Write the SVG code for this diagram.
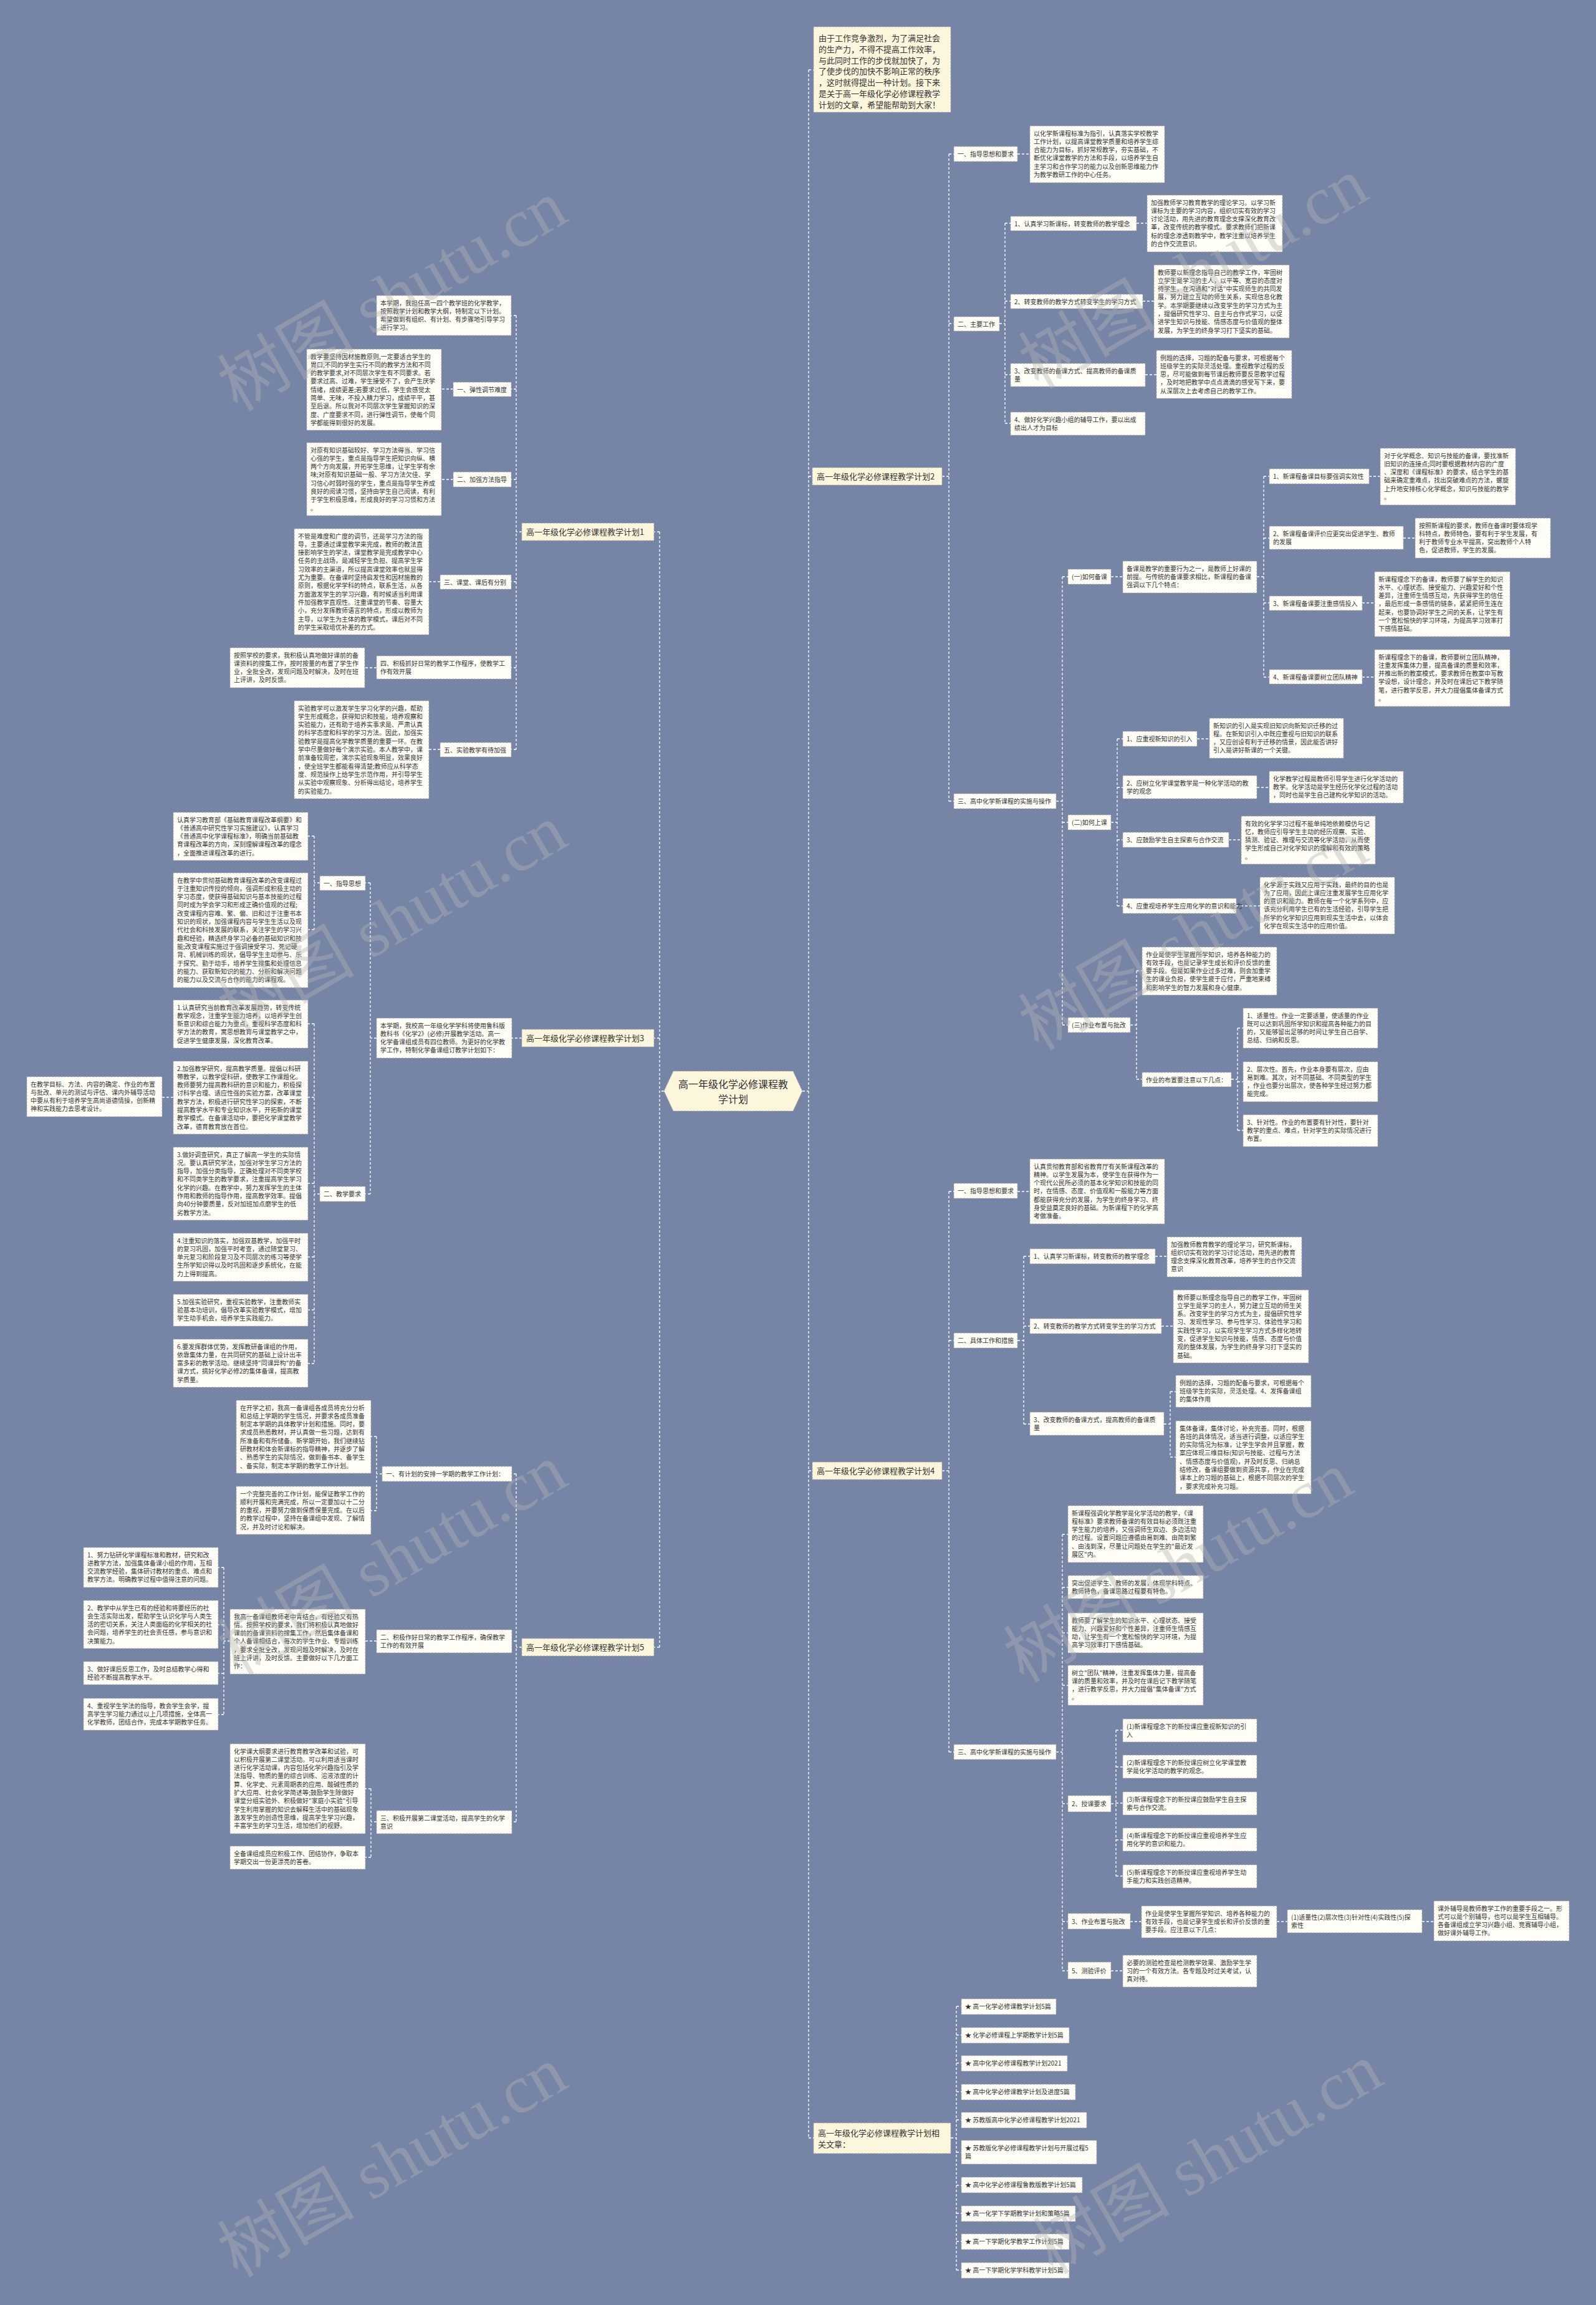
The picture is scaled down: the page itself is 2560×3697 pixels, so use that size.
<svg xmlns="http://www.w3.org/2000/svg" width="2560" height="3697" viewBox="0 0 2560 3697">
<style>
.n{fill:#fffef6;stroke:#a8a8a8;stroke-width:1;stroke-dasharray:3 2}
.b{fill:#fcf6dc;stroke:#a8a8a8;stroke-width:1;stroke-dasharray:3 2}
.t{font-family:"Noto Sans CJK SC","Noto Sans",sans-serif;font-size:10px;fill:#333}
.tb{font-family:"Noto Sans CJK SC","Noto Sans",sans-serif;font-size:13px;fill:#333}
.c{fill:none;stroke:#ffffff;stroke-width:1.3;stroke-dasharray:4 3}
.wm{font-family:"Liberation Serif","Noto Sans CJK SC",serif;font-size:110px;fill:#b4b4b4;opacity:0.4}
</style>
<rect x="0" y="0" width="2560" height="3697" fill="#7684a5"/>
<g id="connectors">
<path class="c" d="M1287,1750 H1297 M1297,112 V3429 M1297,112 H1305 M1297,764 H1303 M1297,2359 H1303 M1297,3429 H1305"/>
<path class="c" d="M1065,1750 H1058 M1058,853 V2642 M1058,853 H1049 M1058,1665 H1049 M1058,2642 H1049"/>
<path class="c" d="M837,853 H828 M828,506 V1202 M828,506 H820 M828,624 H820 M828,769 H820 M828,933 H820 M828,1071 H820 M828,1202 H820 M727,624 H708 M727,769 H708 M706,933 H688 M604,1071 H585 M706,1202 H688"/>
<path class="c" d="M837,1665 H821 M604,1665 H594 M594,1416 V1915 M594,1416 H586 M594,1915 H586 M513,1416 H504 M504,1341 V1491 M504,1341 H494 M504,1491 H494 M513,1915 H504 M504,1642 V2187 M504,1642 H494 M504,1760 H494 M504,1898 H494 M504,2016 H494 M504,2101 H494 M504,2187 H494 M278,1760 H260"/>
<path class="c" d="M837,2642 H828 M828,2364 V2922 M828,2364 H821 M828,2632 H821 M828,2922 H821 M613,2364 H604 M604,2304 V2423 M604,2304 H595 M604,2423 H595 M604,2632 H586 M369,2632 H359 M359,2514 V2750 M359,2514 H350 M359,2606 H350 M359,2684 H350 M359,2750 H350 M604,2922 H595 M595,2869 V2979 M595,2869 H586 M595,2979 H586"/>
<path class="c" d="M1511,764 H1522 M1522,247 V1285 M1522,247 H1530 M1522,519 H1530 M1522,1285 H1530 M1632,247 H1652 M1603,519 H1612 M1612,358 V679 M1612,358 H1621 M1612,483 H1621 M1612,601 H1621 M1612,679 H1621 M1823,358 H1840 M1833,483 H1851 M1837,601 H1855"/>
<path class="c" d="M1694,1285 H1704 M1704,925 V1644 M1704,925 H1713 M1704,1319 H1713 M1704,1644 H1713 M1782,925 H1801 M2016,925 H2027 M2027,764 V1086 M2027,764 H2036 M2027,863 H2036 M2027,967 H2036 M2027,1086 H2036 M2196,764 H2214 M2251,863 H2270 M2185,967 H2205 M2185,1086 H2205"/>
<path class="c" d="M1782,1319 H1792 M1792,1185 V1453 M1792,1185 H1801 M1792,1263 H1801 M1792,1347 H1801 M1792,1453 H1801 M1920,1185 H1940 M2016,1263 H2036 M1971,1347 H1991 M1983,1453 H2021"/>
<path class="c" d="M1813,1644 H1823 M1823,1557 V1731 M1823,1557 H1832 M1823,1731 H1832 M1975,1731 H1985 M1985,1649 V1813 M1985,1649 H1994 M1985,1735 H1994 M1985,1813 H1994"/>
<path class="c" d="M1511,2359 H1522 M1522,1911 V2810 M1522,1911 H1530 M1522,2150 H1530 M1522,2810 H1530 M1632,1911 H1652 M1632,2150 H1642 M1642,2015 V2284 M1642,2015 H1652 M1642,2127 H1652 M1642,2284 H1652 M1853,2015 H1872 M1863,2127 H1882 M1867,2284 H1877 M1877,2232 V2337 M1877,2232 H1886 M1877,2337 H1886"/>
<path class="c" d="M1694,2810 H1704 M1704,2461 V3161 M1704,2461 H1713 M1704,2546 H1713 M1704,2619 H1713 M1704,2703 H1713 M1704,2893 H1713 M1704,3082 H1713 M1704,3161 H1713 M1782,2893 H1790 M1790,2775 V3009 M1790,2775 H1801 M1790,2834 H1801 M1790,2892 H1801 M1790,2951 H1801 M1790,3009 H1801 M1813,3082 H1831 M2048,3082 H2065 M2281,3082 H2300 M1782,3161 H1801"/>
<path class="c" d="M1525,3429 H1534 M1534,3218 V3641 M1534,3218 H1542 M1534,3264 H1542 M1534,3309 H1542 M1534,3355 H1542 M1534,3400 H1542 M1534,3452 H1542 M1534,3505 H1542 M1534,3550 H1542 M1534,3595 H1542 M1534,3641 H1542"/>
</g>

<g id="center"><polygon points="1065,1750 1080,1718 1272,1718 1287,1750 1272,1782 1080,1782" fill="#fcf6dc" stroke="#a8a8a8" stroke-dasharray="3 2"/><text class="tb" style="font-size:16px" text-anchor="middle" x="1176" y="1745">高一年级化学必修课程教<tspan x="1176" dy="24">学计划</tspan></text></g>

<g id="intro"><rect class="b" x="1305" y="43" width="220" height="137"/><text class="tb" x="1313" y="66">由于工作竞争激烈，为了满足社会<tspan x="1313" dy="17.8">的生产力，不得不提高工作效率，</tspan><tspan x="1313" dy="17.8">与此同时工作的步伐就加快了，为</tspan><tspan x="1313" dy="17.8">了使步伐的加快不影响正常的秩序</tspan><tspan x="1313" dy="17.8">，这时就得提出一种计划。接下来</tspan><tspan x="1313" dy="17.8">是关于高一年级化学必修课程教学</tspan><tspan x="1313" dy="17.8">计划的文章，希望能帮助到大家！</tspan></text></g>

<!-- PLAN 1 -->
<g id="p1"><rect class="b" x="837" y="839" width="212" height="28"/><text class="tb" x="844" y="857.5">高一年级化学必修课程教学计划1</text></g>
<g id="p1-0"><rect class="n" x="604" y="474" width="216" height="64"/><text class="t" x="610" y="489.5">本学期，我担任高一四个教学班的化学教学，<tspan x="610" dy="13.3">按照教学计划和教学大纲，特制定以下计划。</tspan><tspan x="610" dy="13.3">希望做到有组织、有计划、有步骤地引导学习</tspan><tspan x="610" dy="13.3">进行学习。</tspan></text></g>
<g id="p1-1"><rect class="n" x="727" y="613" width="93" height="23"/><text class="t" x="733" y="628.5">一、弹性调节难度</text></g>
<g id="p1-1a"><rect class="n" x="492" y="560" width="216" height="130"/><text class="t" x="498" y="575.5">教学要坚持因材施教原则,一定要适合学生的<tspan x="498" dy="13.3">胃口,不同的学生实行不同的教学方法和不同</tspan><tspan x="498" dy="13.3">的教学要求,对不同层次学生有不同要求。若</tspan><tspan x="498" dy="13.3">要求过高、过难，学生接受不了，会产生厌学</tspan><tspan x="498" dy="13.3">情绪，成绩更差;若要求过低，学生会感觉太</tspan><tspan x="498" dy="13.3">简单、无味，不投入精力学习，成绩平平，甚</tspan><tspan x="498" dy="13.3">至后退。所以我对不同层次学生掌握知识的深</tspan><tspan x="498" dy="13.3">度、广度要求不同，进行弹性调节，使每个同</tspan><tspan x="498" dy="13.3">学都能得到很好的发展。</tspan></text></g>
<g id="p1-2"><rect class="n" x="727" y="757" width="93" height="24"/><text class="t" x="733" y="772.5">二、加强方法指导</text></g>
<g id="p1-2a"><rect class="n" x="492" y="710" width="216" height="117"/><text class="t" x="498" y="725.5">对原有知识基础较好、学习方法得当、学习信<tspan x="498" dy="13.3">心强的学生，重点是指导学生把知识向纵、横</tspan><tspan x="498" dy="13.3">两个方向发展，开拓学生思维，让学生学有余</tspan><tspan x="498" dy="13.3">味;对原有知识基础一般、学习方法欠佳、学</tspan><tspan x="498" dy="13.3">习信心时弱时强的学生，重点是指导学生养成</tspan><tspan x="498" dy="13.3">良好的阅读习惯，坚持由学生自己阅读，有利</tspan><tspan x="498" dy="13.3">于学生积极思维，形成良好的学习习惯和方法</tspan><tspan x="498" dy="13.3">。</tspan></text></g>
<g id="p1-3"><rect class="n" x="706" y="922" width="114" height="23"/><text class="t" x="712" y="937.5">三、课堂、课后有分别</text></g>
<g id="p1-3a"><rect class="n" x="472" y="848" width="216" height="170"/><text class="t" x="478" y="863.5">不管是难度和广度的调节，还是学习方法的指<tspan x="478" dy="13.3">导，主要通过课堂教学来完成，教师的教法直</tspan><tspan x="478" dy="13.3">接影响学生的学法，课堂教学是完成教学中心</tspan><tspan x="478" dy="13.3">任务的主战场，是减轻学生负担、提高学生学</tspan><tspan x="478" dy="13.3">习效率的主渠道，所以提高课堂效率也就显得</tspan><tspan x="478" dy="13.3">尤为重要。在备课时坚持启发性和因材施教的</tspan><tspan x="478" dy="13.3">原则，根据化学学科的特点，联系生活，从各</tspan><tspan x="478" dy="13.3">方面激发学生的学习兴趣，有时候适当利用课</tspan><tspan x="478" dy="13.3">件加强教学直观性。注重课堂的节奏、容量大</tspan><tspan x="478" dy="13.3">小，充分发挥教师语言的特点，形成以教师为</tspan><tspan x="478" dy="13.3">主导，以学生为主体的教学模式，课后对不同</tspan><tspan x="478" dy="13.3">的学生采取培优补差的方式。</tspan></text></g>
<g id="p1-4"><rect class="n" x="604" y="1052" width="216" height="37"/><text class="t" x="610" y="1067.5">四、积极抓好日常的教学工作程序，使教学工<tspan x="610" dy="13.3">作有效开展</tspan></text></g>
<g id="p1-4a"><rect class="n" x="369" y="1039" width="216" height="64"/><text class="t" x="375" y="1054.5">按照学校的要求，我积极认真地做好课前的备<tspan x="375" dy="13.3">课资料的搜集工作，按时按量的布置了学生作</tspan><tspan x="375" dy="13.3">业，全批全改，发现问题及时解决，及时在班</tspan><tspan x="375" dy="13.3">上评讲，及时反馈。</tspan></text></g>
<g id="p1-5"><rect class="n" x="706" y="1191" width="114" height="23"/><text class="t" x="712" y="1206.5">五、实验教学有待加强</text></g>
<g id="p1-5a"><rect class="n" x="472" y="1124" width="216" height="157"/><text class="t" x="478" y="1139.5">实验教学可以激发学生学习化学的兴趣，帮助<tspan x="478" dy="13.3">学生形成概念，获得知识和技能，培养观察和</tspan><tspan x="478" dy="13.3">实验能力，还有助于培养实事求是、严肃认真</tspan><tspan x="478" dy="13.3">的科学态度和科学的学习方法。因此，加强实</tspan><tspan x="478" dy="13.3">验教学是提高化学教学质量的重要一环。在教</tspan><tspan x="478" dy="13.3">学中尽量做好每个演示实验。本人教学中，课</tspan><tspan x="478" dy="13.3">前准备较周密，演示实验现象明显，效果良好</tspan><tspan x="478" dy="13.3">，使全班学生都能看得清楚;教师应从科学态</tspan><tspan x="478" dy="13.3">度、规范操作上给学生示范作用，并引导学生</tspan><tspan x="478" dy="13.3">从实验中观察现象、分析得出结论，培养学生</tspan><tspan x="478" dy="13.3">的实验能力。</tspan></text></g>

<!-- PLAN 3 -->
<g id="p3"><rect class="b" x="837" y="1651" width="212" height="28"/><text class="tb" x="844" y="1669.5">高一年级化学必修课程教学计划3</text></g>
<g id="p3-0"><rect class="n" x="604" y="1633" width="217" height="64"/><text class="t" x="610" y="1648.5">本学期，我校高一年级化学学科将使用鲁科版<tspan x="610" dy="13.3">教科书《化学2》(必修)开展教学活动。高一</tspan><tspan x="610" dy="13.3">化学备课组成员有四位教师。为更好的化学教</tspan><tspan x="610" dy="13.3">学工作，特制化学备课组订教学计划如下：</tspan></text></g>
<g id="p3-1"><rect class="n" x="513" y="1405" width="73" height="23"/><text class="t" x="519" y="1420.5">一、指导思想</text></g>
<g id="p3-1a"><rect class="n" x="278" y="1303" width="216" height="77"/><text class="t" x="284" y="1318.5">认真学习教育部《基础教育课程改革纲要》和<tspan x="284" dy="13.3">《普通高中研究性学习实施建议》，认真学习</tspan><tspan x="284" dy="13.3">《普通高中化学课程标准》，明确当前基础教</tspan><tspan x="284" dy="13.3">育课程改革的方向，深刻理解课程改革的理念</tspan><tspan x="284" dy="13.3">，全面推进课程改革的进行。</tspan></text></g>
<g id="p3-1b"><rect class="n" x="278" y="1400" width="216" height="184"/><text class="t" x="284" y="1415.5">在教学中贯彻基础教育课程改革的改变课程过<tspan x="284" dy="13.3">于注重知识传授的倾向，强调形成积极主动的</tspan><tspan x="284" dy="13.3">学习态度，使获得基础知识与基本技能的过程</tspan><tspan x="284" dy="13.3">同时成为学会学习和形成正确价值观的过程;</tspan><tspan x="284" dy="13.3">改变课程内容难、繁、偏、旧和过于注重书本</tspan><tspan x="284" dy="13.3">知识的现状，加强课程内容与学生生活以及现</tspan><tspan x="284" dy="13.3">代社会和科技发展的联系，关注学生的学习兴</tspan><tspan x="284" dy="13.3">趣和经验，精选终身学习必备的基础知识和技</tspan><tspan x="284" dy="13.3">能;改变课程实施过于强调接受学习、死记硬</tspan><tspan x="284" dy="13.3">背、机械训练的现状，倡导学生主动参与、乐</tspan><tspan x="284" dy="13.3">于探究、勤于动手，培养学生搜集和处理信息</tspan><tspan x="284" dy="13.3">的能力、获取新知识的能力、分析和解决问题</tspan><tspan x="284" dy="13.3">的能力以及交流与合作的能力的课程观。</tspan></text></g>
<g id="p3-2"><rect class="n" x="513" y="1903" width="73" height="24"/><text class="t" x="519" y="1918.5">二、教学要求</text></g>
<g id="p3-2a"><rect class="n" x="278" y="1604" width="216" height="77"/><text class="t" x="284" y="1619.5">1.认真研究当前教育改革发展趋势，转变传统<tspan x="284" dy="13.3">教学观念，注重学生能力培养，以培养学生创</tspan><tspan x="284" dy="13.3">新意识和综合能力为重点，重视科学态度和科</tspan><tspan x="284" dy="13.3">学方法的教育，寓思想教育与课堂教学之中，</tspan><tspan x="284" dy="13.3">促进学生健康发展，深化教育改革。</tspan></text></g>
<g id="p3-2b"><rect class="n" x="278" y="1702" width="216" height="117"/><text class="t" x="284" y="1717.5">2.加强教学研究，提高教学质量。提倡以科研<tspan x="284" dy="13.3">带教学，以教学促科研，使教学工作课题化。</tspan><tspan x="284" dy="13.3">教师要努力提高教科研的意识和能力，积极探</tspan><tspan x="284" dy="13.3">讨科学合理、适应性强的实验方案，改革课堂</tspan><tspan x="284" dy="13.3">教学方法，积极进行研究性学习的探索，不断</tspan><tspan x="284" dy="13.3">提高教学水平和专业知识水平，开拓新的课堂</tspan><tspan x="284" dy="13.3">教学模式。在备课活动中，要把化学课堂教学</tspan><tspan x="284" dy="13.3">改革，德育教育放在首位。</tspan></text></g>
<g id="p3-2b1"><rect class="n" x="43" y="1727" width="217" height="64"/><text class="t" x="49" y="1742.5">在教学目标、方法、内容的确定、作业的布置<tspan x="49" dy="13.3">与批改、单元的测试与评估、课内外辅导活动</tspan><tspan x="49" dy="13.3">中要从有利于培养学生高尚道德情操，创新精</tspan><tspan x="49" dy="13.3">神和实践能力去思考设计。</tspan></text></g>
<g id="p3-2c"><rect class="n" x="278" y="1840" width="216" height="117"/><text class="t" x="284" y="1855.5">3.做好调查研究，真正了解高一学生的实际情<tspan x="284" dy="13.3">况。要认真研究学法，加强对学生学习方法的</tspan><tspan x="284" dy="13.3">指导，加强分类指导，正确处理对不同类学校</tspan><tspan x="284" dy="13.3">和不同类学生的教学要求，注重提高学生学习</tspan><tspan x="284" dy="13.3">化学的兴趣。在教学中，努力发挥学生的主体</tspan><tspan x="284" dy="13.3">作用和教师的指导作用，提高教学效率。提倡</tspan><tspan x="284" dy="13.3">向40分钟要质量，反对加班加点磨学生的低</tspan><tspan x="284" dy="13.3">劣教学方法。</tspan></text></g>
<g id="p3-2d"><rect class="n" x="278" y="1978" width="216" height="77"/><text class="t" x="284" y="1993.5">4.注重知识的落实，加强双基教学，加强平时<tspan x="284" dy="13.3">的复习巩固，加强平时考查，通过随堂复习、</tspan><tspan x="284" dy="13.3">单元复习和阶段复习及不同层次的练习等使学</tspan><tspan x="284" dy="13.3">生所学知识得以及时巩固和逐步系统化，在能</tspan><tspan x="284" dy="13.3">力上得到提高。</tspan></text></g>
<g id="p3-2e"><rect class="n" x="278" y="2076" width="216" height="51"/><text class="t" x="284" y="2091.5">5.加强实验研究，重视实验教学，注重教师实<tspan x="284" dy="13.3">验基本功培训，倡导改革实验教学模式，增加</tspan><tspan x="284" dy="13.3">学生动手机会，培养学生实践能力。</tspan></text></g>
<g id="p3-2f"><rect class="n" x="278" y="2148" width="216" height="77"/><text class="t" x="284" y="2163.5">6.要发挥群体优势，发挥教研备课组的作用，<tspan x="284" dy="13.3">依靠集体力量，在共同研究的基础上设计出丰</tspan><tspan x="284" dy="13.3">富多彩的教学活动。继续坚持"同课异构"的备</tspan><tspan x="284" dy="13.3">课方式，搞好化学必修2的集体备课，提高教</tspan><tspan x="284" dy="13.3">学质量。</tspan></text></g>

<!-- PLAN 5 -->
<g id="p5"><rect class="b" x="837" y="2628" width="212" height="28"/><text class="tb" x="844" y="2646.5">高一年级化学必修课程教学计划5</text></g>
<g id="p5-1"><rect class="n" x="613" y="2352" width="208" height="24"/><text class="t" x="619" y="2367.5">一、有计划的安排一学期的教学工作计划：</text></g>
<g id="p5-1a"><rect class="n" x="379" y="2246" width="216" height="117"/><text class="t" x="385" y="2261.5">在开学之初，我高一备课组各成员将充分分析<tspan x="385" dy="13.3">和总结上学期的学生情况，并要求各成员准备</tspan><tspan x="385" dy="13.3">制定本学期的具体教学计划和措施。同时，要</tspan><tspan x="385" dy="13.3">求成员熟悉教材，并认真做一些习题，达到有</tspan><tspan x="385" dy="13.3">所准备和有所储备。新学期开始，我们继续钻</tspan><tspan x="385" dy="13.3">研教材和体会新课标的指导精神，并逐步了解</tspan><tspan x="385" dy="13.3">、熟悉学生的实际情况，做到备书本、备学生</tspan><tspan x="385" dy="13.3">、备实际，制定本学期的教学工作计划。</tspan></text></g>
<g id="p5-1b"><rect class="n" x="379" y="2384" width="216" height="77"/><text class="t" x="385" y="2399.5">一个完整完善的工作计划，能保证教学工作的<tspan x="385" dy="13.3">顺利开展和完满完成，所以一定要加以十二分</tspan><tspan x="385" dy="13.3">的重视，并要努力做到保质保量完成。在以后</tspan><tspan x="385" dy="13.3">的教学过程中，坚持在备课组中发现、了解情</tspan><tspan x="385" dy="13.3">况，并及时讨论和解决。</tspan></text></g>
<g id="p5-2"><rect class="n" x="604" y="2614" width="217" height="37"/><text class="t" x="610" y="2629.5">二、积极作好日常的教学工作程序，确保教学<tspan x="610" dy="13.3">工作的有效开展</tspan></text></g>
<g id="p5-2a"><rect class="n" x="369" y="2581" width="217" height="104"/><text class="t" x="375" y="2596.5">我高一备课组教师老中青结合，有经验又有热<tspan x="375" dy="13.3">情。按照学校的要求，我们将积极认真地做好</tspan><tspan x="375" dy="13.3">课前的备课资料的搜集工作，然后集体备课和</tspan><tspan x="375" dy="13.3">个人备课相结合，每次的学生作业、专题训练</tspan><tspan x="375" dy="13.3">，要求全批全改，发现问题及时解决，及时在</tspan><tspan x="375" dy="13.3">班上评讲，及时反馈。主要做好以下几方面工</tspan><tspan x="375" dy="13.3">作：</tspan></text></g>
<g id="p5-2a1"><rect class="n" x="134" y="2482" width="216" height="64"/><text class="t" x="140" y="2497.5">1、努力钻研化学课程标准和教材，研究和改<tspan x="140" dy="13.3">进教学方法，加强集体备课小组的作用，互相</tspan><tspan x="140" dy="13.3">交流教学经验，集体研讨教材的重点、难点和</tspan><tspan x="140" dy="13.3">教学方法。明确教学过程中值得注意的问题。</tspan></text></g>
<g id="p5-2a2"><rect class="n" x="134" y="2567" width="216" height="77"/><text class="t" x="140" y="2582.5">2、教学中从学生已有的经验和将要经历的社<tspan x="140" dy="13.3">会生活实际出发，帮助学生认识化学与人类生</tspan><tspan x="140" dy="13.3">活的密切关系，关注人类面临的化学相关的社</tspan><tspan x="140" dy="13.3">会问题，培养学生的社会责任感，参与意识和</tspan><tspan x="140" dy="13.3">决策能力。</tspan></text></g>
<g id="p5-2a3"><rect class="n" x="134" y="2665" width="216" height="37"/><text class="t" x="140" y="2680.5">3、做好课后反思工作，及时总结教学心得和<tspan x="140" dy="13.3">经验不断提高教学水平。</tspan></text></g>
<g id="p5-2a4"><rect class="n" x="134" y="2724" width="216" height="51"/><text class="t" x="140" y="2739.5">4、重视学生学法的指导，教会学生会学，提<tspan x="140" dy="13.3">高学生学习能力通过以上几项措施，全体高一</tspan><tspan x="140" dy="13.3">化学教师，团结合作，完成本学期教学任务。</tspan></text></g>
<g id="p5-3"><rect class="n" x="604" y="2904" width="217" height="37"/><text class="t" x="610" y="2919.5">三、积极开展第二课堂活动，提高学生的化学<tspan x="610" dy="13.3">意识</tspan></text></g>
<g id="p5-3a"><rect class="n" x="369" y="2797" width="217" height="144"/><text class="t" x="375" y="2812.5">化学课大纲要求进行教育教学改革和试验，可<tspan x="375" dy="13.3">以积极开展第二课堂活动。可以利用适当课时</tspan><tspan x="375" dy="13.3">进行化学活动课，内容包括化学兴趣指引及学</tspan><tspan x="375" dy="13.3">法指导、物质的量的综合训练、溶液浓度的计</tspan><tspan x="375" dy="13.3">算、化学史、元素周期表的应用、酸碱性质的</tspan><tspan x="375" dy="13.3">扩大应用、社会化学简述等;鼓励学生除做好</tspan><tspan x="375" dy="13.3">课堂分组实验外、积极做好"家庭小实验"引导</tspan><tspan x="375" dy="13.3">学生利用掌握的知识去解释生活中的基础现象</tspan><tspan x="375" dy="13.3">激发学生的创造性思维，提高学生学习兴趣，</tspan><tspan x="375" dy="13.3">丰富学生的学习生活，增加他们的视野。</tspan></text></g>
<g id="p5-3b"><rect class="n" x="369" y="2961" width="217" height="37"/><text class="t" x="375" y="2976.5">全备课组成员应积极工作、团结协作，争取本<tspan x="375" dy="13.3">学期交出一份更漂亮的答卷。</tspan></text></g>

<!-- PLAN 2 -->
<g id="p2"><rect class="b" x="1303" y="750" width="208" height="28"/><text class="tb" x="1310" y="768.5">高一年级化学必修课程教学计划2</text></g>
<g id="p2-1"><rect class="n" x="1530" y="235" width="102" height="24"/><text class="t" x="1536" y="250.5">一、指导思想和要求</text></g>
<g id="p2-1a"><rect class="n" x="1652" y="202" width="216" height="91"/><text class="t" x="1658" y="217.5">以化学新课程标准为指引，认真落实学校教学<tspan x="1658" dy="13.3">工作计划，以提高课堂教学质量和培养学生综</tspan><tspan x="1658" dy="13.3">合能力为目标，抓好常规教学，夯实基础，不</tspan><tspan x="1658" dy="13.3">断优化课堂教学的方法和手段，以培养学生自</tspan><tspan x="1658" dy="13.3">主学习和合作学习的能力以及创新思维能力作</tspan><tspan x="1658" dy="13.3">为教学教研工作的中心任务。</tspan></text></g>
<g id="p2-2"><rect class="n" x="1530" y="508" width="73" height="23"/><text class="t" x="1536" y="523.5">二、主要工作</text></g>
<g id="p2-2-1"><rect class="n" x="1621" y="347" width="202" height="23"/><text class="t" x="1627" y="362.5">1、认真学习新课标，转变教师的教学理念</text></g>
<g id="p2-2-1a"><rect class="n" x="1840" y="313" width="217" height="91"/><text class="t" x="1846" y="328.5">加强教师学习教育教学的理论学习。以学习新<tspan x="1846" dy="13.3">课标为主要的学习内容，组织切实有效的学习</tspan><tspan x="1846" dy="13.3">讨论活动，用先进的教育理念支撑深化教育改</tspan><tspan x="1846" dy="13.3">革，改变传统的教学模式。要求教师们把新课</tspan><tspan x="1846" dy="13.3">标的理念渗透到教学中，教学注重以培养学生</tspan><tspan x="1846" dy="13.3">的合作交流意识。</tspan></text></g>
<g id="p2-2-2"><rect class="n" x="1621" y="472" width="212" height="23"/><text class="t" x="1627" y="487.5">2、转变教师的教学方式转变学生的学习方式</text></g>
<g id="p2-2-2a"><rect class="n" x="1851" y="425" width="217" height="117"/><text class="t" x="1857" y="440.5">教师要以新理念指导自己的教学工作，牢固树<tspan x="1857" dy="13.3">立学生是学习的主人，以平等、宽容的态度对</tspan><tspan x="1857" dy="13.3">待学生，在沟通和"对话"中实现师生的共同发</tspan><tspan x="1857" dy="13.3">展，努力建立互动的师生关系，实现信息化教</tspan><tspan x="1857" dy="13.3">学。本学期要继续以改变学生的学习方式为主</tspan><tspan x="1857" dy="13.3">，提倡研究性学习、自主与合作式学习，以促</tspan><tspan x="1857" dy="13.3">进学生知识与技能、情感态度与价值观的整体</tspan><tspan x="1857" dy="13.3">发展，为学生的终身学习打下坚实的基础。</tspan></text></g>
<g id="p2-2-3"><rect class="n" x="1621" y="583" width="216" height="37"/><text class="t" x="1627" y="598.5">3、改变教师的备课方式、提高教师的备课质<tspan x="1627" dy="13.3">量</tspan></text></g>
<g id="p2-2-3a"><rect class="n" x="1855" y="562" width="217" height="77"/><text class="t" x="1861" y="577.5">例题的选择，习题的配备与要求，可根据每个<tspan x="1861" dy="13.3">班级学生的实际灵活处理。重视教学过程的反</tspan><tspan x="1861" dy="13.3">思，尽可能做到每节课后教师要反思教学过程</tspan><tspan x="1861" dy="13.3">，及时地把教学中点点滴滴的感受写下来，要</tspan><tspan x="1861" dy="13.3">从深层次上去考虑自己的教学工作。</tspan></text></g>
<g id="p2-2-4"><rect class="n" x="1621" y="661" width="216" height="37"/><text class="t" x="1627" y="676.5">4、做好化学兴趣小组的辅导工作，要以出成<tspan x="1627" dy="13.3">绩出人才为目标</tspan></text></g>
<g id="p2-3"><rect class="n" x="1530" y="1273" width="164" height="24"/><text class="t" x="1536" y="1288.5">三、高中化学新课程的实施与操作</text></g>
<g id="p2-3-1"><rect class="n" x="1713" y="913" width="69" height="24"/><text class="t" x="1719" y="928.5">(一)如何备课</text></g>
<g id="p2-3-1a"><rect class="n" x="1801" y="900" width="215" height="51"/><text class="t" x="1807" y="915.5">备课是教学的重要行为之一，是教师上好课的<tspan x="1807" dy="13.3">前提。与传统的备课要求相比，新课程的备课</tspan><tspan x="1807" dy="13.3">强调以下几个特点：</tspan></text></g>
<g id="p2-3-1-1"><rect class="n" x="2036" y="752" width="160" height="24"/><text class="t" x="2042" y="767.5">1、新课程备课目标要强调实效性</text></g>
<g id="p2-3-1-1a"><rect class="n" x="2214" y="719" width="217" height="91"/><text class="t" x="2220" y="734.5">对于化学概念、知识与技能的备课，要找准新<tspan x="2220" dy="13.3">旧知识的连接点;同时要根据教材内容的广度</tspan><tspan x="2220" dy="13.3">、深度和《课程标准》的要求，结合学生的基</tspan><tspan x="2220" dy="13.3">础来确定重难点，找出突破难点的方法，螺旋</tspan><tspan x="2220" dy="13.3">上升地安排核心化学概念，知识与技能的教学</tspan><tspan x="2220" dy="13.3">。</tspan></text></g>
<g id="p2-3-1-2"><rect class="n" x="2036" y="844" width="215" height="37"/><text class="t" x="2042" y="859.5">2、新课程备课评价应更突出促进学生、教师<tspan x="2042" dy="13.3">的发展</tspan></text></g>
<g id="p2-3-1-2a"><rect class="n" x="2270" y="831" width="217" height="64"/><text class="t" x="2276" y="846.5">按照新课程的要求，教师在备课时要体现学<tspan x="2276" dy="13.3">科特点，教师特色，要有利于学生发展，有</tspan><tspan x="2276" dy="13.3">利于教师专业水平提高，突出教师个人特</tspan><tspan x="2276" dy="13.3">色，促进教师，学生的发展。</tspan></text></g>
<g id="p2-3-1-3"><rect class="n" x="2036" y="956" width="149" height="23"/><text class="t" x="2042" y="971.5">3、新课程备课要注重感情投入</text></g>
<g id="p2-3-1-3a"><rect class="n" x="2205" y="917" width="217" height="104"/><text class="t" x="2211" y="932.5">新课程理念下的备课，教师要了解学生的知识<tspan x="2211" dy="13.3">水平、心理状态、接受能力、兴趣爱好和个性</tspan><tspan x="2211" dy="13.3">差异，注重师生情感互动，先获得学生的信任</tspan><tspan x="2211" dy="13.3">，最后形成一条感情的链条，紧紧把师生连在</tspan><tspan x="2211" dy="13.3">起来，也要协调好学生之间的关系，让学生有</tspan><tspan x="2211" dy="13.3">一个宽松愉快的学习环境，为提高学习效率打</tspan><tspan x="2211" dy="13.3">下感情基础。</tspan></text></g>
<g id="p2-3-1-4"><rect class="n" x="2036" y="1074" width="149" height="23"/><text class="t" x="2042" y="1089.5">4、新课程备课要树立团队精神</text></g>
<g id="p2-3-1-4a"><rect class="n" x="2205" y="1042" width="217" height="91"/><text class="t" x="2211" y="1057.5">新课程理念下的备课，教师要树立团队精神，<tspan x="2211" dy="13.3">注重发挥集体力量，提高备课的质量和效率，</tspan><tspan x="2211" dy="13.3">并推出新的教案模式，要求教师在教案中写教</tspan><tspan x="2211" dy="13.3">学设想，设计理念，并及时在课后记下教学随</tspan><tspan x="2211" dy="13.3">笔，进行教学反思，并大力提倡集体备课方式</tspan><tspan x="2211" dy="13.3">。</tspan></text></g>
<g id="p2-3-2"><rect class="n" x="1713" y="1307" width="69" height="24"/><text class="t" x="1719" y="1322.5">(二)如何上课</text></g>
<g id="p2-3-2-1"><rect class="n" x="1801" y="1173" width="119" height="24"/><text class="t" x="1807" y="1188.5">1、应重视新知识的引入</text></g>
<g id="p2-3-2-1a"><rect class="n" x="1940" y="1152" width="215" height="64"/><text class="t" x="1946" y="1167.5">新知识的引入是实现旧知识向新知识迁移的过<tspan x="1946" dy="13.3">程。在新知识引入中既应重视与旧知识的联系</tspan><tspan x="1946" dy="13.3">，又应创设有利于迁移的情景，因此能否讲好</tspan><tspan x="1946" dy="13.3">引入是讲好新课的一个关键。</tspan></text></g>
<g id="p2-3-2-2"><rect class="n" x="1801" y="1244" width="215" height="37"/><text class="t" x="1807" y="1259.5">2、应树立化学课堂教学是一种化学活动的教<tspan x="1807" dy="13.3">学的观念</tspan></text></g>
<g id="p2-3-2-2a"><rect class="n" x="2036" y="1237" width="215" height="51"/><text class="t" x="2042" y="1252.5">化学教学过程是教师引导学生进行化学活动的<tspan x="2042" dy="13.3">教学。化学活动是学生经历化学化过程的活动</tspan><tspan x="2042" dy="13.3">，同时也是学生自己建构化学知识的活动。</tspan></text></g>
<g id="p2-3-2-3"><rect class="n" x="1801" y="1335" width="170" height="24"/><text class="t" x="1807" y="1350.5">3、应鼓励学生自主探索与合作交流</text></g>
<g id="p2-3-2-3a"><rect class="n" x="1991" y="1309" width="215" height="77"/><text class="t" x="1997" y="1324.5">有效的化学学习过程不能单纯地依赖模仿与记<tspan x="1997" dy="13.3">忆，教师应引导学生主动的经历观察、实验、</tspan><tspan x="1997" dy="13.3">猜测、验证、推理与交流等化学活动，从而使</tspan><tspan x="1997" dy="13.3">学生形成自己对化学知识的理解和有效的策略</tspan><tspan x="1997" dy="13.3">。</tspan></text></g>
<g id="p2-3-2-4"><rect class="n" x="1801" y="1441" width="182" height="24"/><text class="t" x="1807" y="1456.5">4、应重视培养学生应用化学的意识和能力</text></g>
<g id="p2-3-2-4a"><rect class="n" x="2021" y="1407" width="216" height="91"/><text class="t" x="2027" y="1422.5">化学源于实践又应用于实践，最终的目的也是<tspan x="2027" dy="13.3">为了应用，因此上课应注重发展学生应用化学</tspan><tspan x="2027" dy="13.3">的意识和能力。教师在每一个化学系列中，应</tspan><tspan x="2027" dy="13.3">该充分利用学生已有的生活经验，引导学生把</tspan><tspan x="2027" dy="13.3">所学的化学知识应用到现实生活中去，以体会</tspan><tspan x="2027" dy="13.3">化学在现实生活中的应用价值。</tspan></text></g>
<g id="p2-3-3"><rect class="n" x="1713" y="1632" width="100" height="24"/><text class="t" x="1719" y="1647.5">(三)作业布置与批改</text></g>
<g id="p2-3-3a"><rect class="n" x="1832" y="1519" width="216" height="77"/><text class="t" x="1838" y="1534.5">作业是使学生掌握所学知识，培养各种能力的<tspan x="1838" dy="13.3">有效手段，也是记录学生成长和评价反馈的重</tspan><tspan x="1838" dy="13.3">要手段。但是如果作业过多过难，则会加重学</tspan><tspan x="1838" dy="13.3">生的课业负担，使学生疲于应付，严重地束缚</tspan><tspan x="1838" dy="13.3">和影响学生的智力发展和身心健康。</tspan></text></g>
<g id="p2-3-3b"><rect class="n" x="1832" y="1720" width="143" height="23"/><text class="t" x="1838" y="1735.5">作业的布置要注意以下几点：</text></g>
<g id="p2-3-3b1"><rect class="n" x="1994" y="1617" width="216" height="64"/><text class="t" x="2000" y="1632.5">1、适量性。作业一定要适量，使适量的作业<tspan x="2000" dy="13.3">既可以达到巩固所学知识和提高各种能力的目</tspan><tspan x="2000" dy="13.3">的，又能够留出足够的时间让学生自己自学、</tspan><tspan x="2000" dy="13.3">总结、归纳和反思。</tspan></text></g>
<g id="p2-3-3b2"><rect class="n" x="1994" y="1703" width="216" height="64"/><text class="t" x="2000" y="1718.5">2、层次性。首先，作业本身要有层次，应由<tspan x="2000" dy="13.3">易到难。其次，对不同基础、不同类型的学生</tspan><tspan x="2000" dy="13.3">，作业也要分出层次，使各种学生经过努力都</tspan><tspan x="2000" dy="13.3">能完成。</tspan></text></g>
<g id="p2-3-3b3"><rect class="n" x="1994" y="1788" width="216" height="51"/><text class="t" x="2000" y="1803.5">3、针对性。作业的布置要有针对性，要针对<tspan x="2000" dy="13.3">教学的重点、难点，针对学生的实际情况进行</tspan><tspan x="2000" dy="13.3">布置。</tspan></text></g>

<!-- PLAN 4 -->
<g id="p4"><rect class="b" x="1303" y="2345" width="208" height="28"/><text class="tb" x="1310" y="2363.5">高一年级化学必修课程教学计划4</text></g>
<g id="p4-1"><rect class="n" x="1530" y="1898" width="102" height="24"/><text class="t" x="1536" y="1913.5">一、指导思想和要求</text></g>
<g id="p4-1a"><rect class="n" x="1652" y="1859" width="216" height="104"/><text class="t" x="1658" y="1874.5">认真贯彻教育部和省教育厅有关新课程改革的<tspan x="1658" dy="13.3">精神。以学生发展为本，使学生在获得作为一</tspan><tspan x="1658" dy="13.3">个现代公民所必须的基本化学知识和技能的同</tspan><tspan x="1658" dy="13.3">时，在情感、态度、价值观和一般能力等方面</tspan><tspan x="1658" dy="13.3">都能获得充分的发展，为学生的终身学习、终</tspan><tspan x="1658" dy="13.3">身受益奠定良好的基础。为新课程下的化学高</tspan><tspan x="1658" dy="13.3">考做准备。</tspan></text></g>
<g id="p4-2"><rect class="n" x="1530" y="2138" width="102" height="24"/><text class="t" x="1536" y="2153.5">二、具体工作和措施</text></g>
<g id="p4-2-1"><rect class="n" x="1652" y="2003" width="201" height="24"/><text class="t" x="1658" y="2018.5">1、认真学习新课标，转变教师的教学理念</text></g>
<g id="p4-2-1a"><rect class="n" x="1872" y="1984" width="216" height="64"/><text class="t" x="1878" y="1999.5">加强教师教育教学的理论学习，研究新课标，<tspan x="1878" dy="13.3">组织切实有效的学习讨论活动，用先进的教育</tspan><tspan x="1878" dy="13.3">理念支撑深化教育改革，培养学生的合作交流</tspan><tspan x="1878" dy="13.3">意识</tspan></text></g>
<g id="p4-2-2"><rect class="n" x="1652" y="2115" width="211" height="24"/><text class="t" x="1658" y="2130.5">2、转变教师的教学方式转变学生的学习方式</text></g>
<g id="p4-2-2a"><rect class="n" x="1882" y="2069" width="217" height="117"/><text class="t" x="1888" y="2084.5">教师要以新理念指导自己的教学工作，牢固树<tspan x="1888" dy="13.3">立学生是学习的主人，努力建立互动的师生关</tspan><tspan x="1888" dy="13.3">系。改变学生的学习方式为主，提倡研究性学</tspan><tspan x="1888" dy="13.3">习、发现性学习、参与性学习、体验性学习和</tspan><tspan x="1888" dy="13.3">实践性学习，以实现学生学习方式多样化地转</tspan><tspan x="1888" dy="13.3">变，促进学生知识与技能，情感、态度与价值</tspan><tspan x="1888" dy="13.3">观的整体发展，为学生的终身学习打下坚实的</tspan><tspan x="1888" dy="13.3">基础。</tspan></text></g>
<g id="p4-2-3"><rect class="n" x="1652" y="2265" width="215" height="37"/><text class="t" x="1658" y="2280.5">3、改变教师的备课方式，提高教师的备课质<tspan x="1658" dy="13.3">量</tspan></text></g>
<g id="p4-2-3a"><rect class="n" x="1886" y="2206" width="217" height="51"/><text class="t" x="1892" y="2221.5">例题的选择，习题的配备与要求，可根据每个<tspan x="1892" dy="13.3">班级学生的实际，灵活处理。4、发挥备课组</tspan><tspan x="1892" dy="13.3">的集体作用</tspan></text></g>
<g id="p4-2-3b"><rect class="n" x="1886" y="2279" width="217" height="117"/><text class="t" x="1892" y="2294.5">集体备课，集体讨论，补充完善。同时，根据<tspan x="1892" dy="13.3">各班的具体情况，适当进行调整，以适应学生</tspan><tspan x="1892" dy="13.3">的实际情况为标准，让学生学会并且掌握，教</tspan><tspan x="1892" dy="13.3">案应体现三维目标(知识与技能、过程与方法</tspan><tspan x="1892" dy="13.3">、情感态度与价值观)，并及时反思、归纳总</tspan><tspan x="1892" dy="13.3">结修改，备课组要做到资源共享，作业在完成</tspan><tspan x="1892" dy="13.3">课本上的习题的基础上，根据不同层次的学生</tspan><tspan x="1892" dy="13.3">，要求完成补充习题。</tspan></text></g>
<g id="p4-3"><rect class="n" x="1530" y="2798" width="164" height="24"/><text class="t" x="1536" y="2813.5">三、高中化学新课程的实施与操作</text></g>
<g id="p4-3a"><rect class="n" x="1713" y="2415" width="217" height="91"/><text class="t" x="1719" y="2430.5">新课程强调化学教学是化学活动的教学，《课<tspan x="1719" dy="13.3">程标准》要求教师备课的有效目标必须既注重</tspan><tspan x="1719" dy="13.3">学生能力的培养，又强调师生双边、多边活动</tspan><tspan x="1719" dy="13.3">的过程。设置问题应遵循由易到难、由简到繁</tspan><tspan x="1719" dy="13.3">、由浅到深，尽量让问题处在学生的"最近发</tspan><tspan x="1719" dy="13.3">展区"内。</tspan></text></g>
<g id="p4-3b"><rect class="n" x="1713" y="2527" width="217" height="37"/><text class="t" x="1719" y="2542.5">突出促进学生、教师的发展，体现学科特点、<tspan x="1719" dy="13.3">教师特色，备课思路过程要有特色。</tspan></text></g>
<g id="p4-3c"><rect class="n" x="1713" y="2587" width="217" height="64"/><text class="t" x="1719" y="2602.5">教师要了解学生的知识水平、心理状态、接受<tspan x="1719" dy="13.3">能力、兴趣爱好和个性差异，注重师生情感互</tspan><tspan x="1719" dy="13.3">动，让学生有一个宽松愉快的学习环境，为提</tspan><tspan x="1719" dy="13.3">高学习效率打下感情基础。</tspan></text></g>
<g id="p4-3d"><rect class="n" x="1713" y="2671" width="217" height="64"/><text class="t" x="1719" y="2686.5">树立"团队"精神，注重发挥集体力量，提高备<tspan x="1719" dy="13.3">课的质量和效率，并及时在课后记下教学随笔</tspan><tspan x="1719" dy="13.3">，进行教学反思，并大力提倡"集体备课"方式</tspan><tspan x="1719" dy="13.3">。</tspan></text></g>
<g id="p4-3e"><rect class="n" x="1713" y="2880" width="69" height="26"/><text class="t" x="1719" y="2897">2、授课要求</text></g>
<g id="p4-3e1"><rect class="n" x="1801" y="2757" width="215" height="37"/><text class="t" x="1807" y="2772.5">(1)新课程理念下的新授课应重视新知识的引<tspan x="1807" dy="13.3">入</tspan></text></g>
<g id="p4-3e2"><rect class="n" x="1801" y="2815" width="215" height="37"/><text class="t" x="1807" y="2830.5">(2)新课程理念下的新授课应树立化学课堂教<tspan x="1807" dy="13.3">学是化学活动的教学的观念。</tspan></text></g>
<g id="p4-3e3"><rect class="n" x="1801" y="2874" width="215" height="37"/><text class="t" x="1807" y="2889.5">(3)新课程理念下的新授课应鼓励学生自主探<tspan x="1807" dy="13.3">索与合作交流。</tspan></text></g>
<g id="p4-3e4"><rect class="n" x="1801" y="2932" width="215" height="37"/><text class="t" x="1807" y="2947.5">(4)新课程理念下的新授课应重视培养学生应<tspan x="1807" dy="13.3">用化学的意识和能力。</tspan></text></g>
<g id="p4-3e5"><rect class="n" x="1801" y="2991" width="215" height="37"/><text class="t" x="1807" y="3006.5">(5)新课程理念下的新授课应重视培养学生动<tspan x="1807" dy="13.3">手能力和实践创造精神。</tspan></text></g>
<g id="p4-3f"><rect class="n" x="1713" y="3069" width="100" height="25"/><text class="t" x="1719" y="3085.5">3、作业布置与批改</text></g>
<g id="p4-3f1"><rect class="n" x="1831" y="3057" width="217" height="51"/><text class="t" x="1837" y="3072.5">作业是使学生掌握所学知识、培养各种能力的<tspan x="1837" dy="13.3">有效手段，也是记录学生成长和评价反馈的重</tspan><tspan x="1837" dy="13.3">要手段。应注意以下几点：</tspan></text></g>
<g id="p4-3f2"><rect class="n" x="2065" y="3063" width="216" height="37"/><text class="t" x="2071" y="3078.5">(1)适量性(2)层次性(3)针对性(4)实践性(5)探<tspan x="2071" dy="13.3">索性</tspan></text></g>
<g id="p4-3f3"><rect class="n" x="2300" y="3049" width="217" height="64"/><text class="t" x="2306" y="3064.5">课外辅导是教师教学工作的重要手段之一。形<tspan x="2306" dy="13.3">式可以是个别辅导，也可以是学生互相辅导。</tspan><tspan x="2306" dy="13.3">各备课组成立学习兴趣小组、竞赛辅导小组，</tspan><tspan x="2306" dy="13.3">做好课外辅导工作。</tspan></text></g>
<g id="p4-3g"><rect class="n" x="1713" y="3147" width="69" height="27"/><text class="t" x="1719" y="3164.5">5、测验评价</text></g>
<g id="p4-3g1"><rect class="n" x="1801" y="3136" width="215" height="51"/><text class="t" x="1807" y="3151.5">必要的测验检查是检测教学效果、激励学生学<tspan x="1807" dy="13.3">习的一个有效方法。各专题及时过关考试，认</tspan><tspan x="1807" dy="13.3">真对待。</tspan></text></g>

<!-- RELATED -->
<g id="rel"><rect class="b" x="1305" y="3405" width="220" height="49"/><text class="tb" x="1312" y="3426">高一年级化学必修课程教学计划相<tspan x="1312" dy="17.8">关文章：</tspan></text></g>
<g id="rel-1"><rect class="n" x="1542" y="3206" width="152" height="25"/><text class="t" x="1548" y="3222">★ 高一化学必修课教学计划5篇</text></g>
<g id="rel-2"><rect class="n" x="1542" y="3252" width="173" height="25"/><text class="t" x="1548" y="3268">★ 化学必修课程上学期教学计划5篇</text></g>
<g id="rel-3"><rect class="n" x="1542" y="3297" width="170" height="25"/><text class="t" x="1548" y="3313">★ 高中化学必修课程教学计划2021</text></g>
<g id="rel-4"><rect class="n" x="1542" y="3343" width="183" height="25"/><text class="t" x="1548" y="3359">★ 高中化学必修课教学计划及进度5篇</text></g>
<g id="rel-5"><rect class="n" x="1542" y="3388" width="201" height="25"/><text class="t" x="1548" y="3404">★ 苏教版高中化学必修课程教学计划2021</text></g>
<g id="rel-6"><rect class="n" x="1542" y="3433" width="217" height="38"/><text class="t" x="1548" y="3449">★ 苏教版化学必修课程教学计划与开展过程5<tspan x="1548" dy="13.3">篇</tspan></text></g>
<g id="rel-7"><rect class="n" x="1542" y="3492" width="194" height="25"/><text class="t" x="1548" y="3508">★ 高中化学必修课程鲁教版教学计划5篇</text></g>
<g id="rel-8"><rect class="n" x="1542" y="3538" width="183" height="25"/><text class="t" x="1548" y="3554">★ 高一化学下学期教学计划和策略5篇</text></g>
<g id="rel-9"><rect class="n" x="1542" y="3583" width="173" height="25"/><text class="t" x="1548" y="3599">★ 高一下学期化学教学工作计划5篇</text></g>
<g id="rel-10"><rect class="n" x="1542" y="3629" width="173" height="25"/><text class="t" x="1548" y="3645">★ 高一下学期化学学科教学计划5篇</text></g>

<g id="watermark">
<text class="wm" transform="translate(648,507) rotate(-30)" text-anchor="middle">树图 shutu.cn</text>
<text class="wm" transform="translate(1933,471) rotate(-30)" text-anchor="middle">树图 shutu.cn</text>
<text class="wm" transform="translate(648,1508) rotate(-30)" text-anchor="middle">树图 shutu.cn</text>
<text class="wm" transform="translate(1933,1532) rotate(-30)" text-anchor="middle">树图 shutu.cn</text>
<text class="wm" transform="translate(648,2534) rotate(-30)" text-anchor="middle">树图 shutu.cn</text>
<text class="wm" transform="translate(1909,2546) rotate(-30)" text-anchor="middle">树图 shutu.cn</text>
<text class="wm" transform="translate(648,3500) rotate(-30)" text-anchor="middle">树图 shutu.cn</text>
<text class="wm" transform="translate(1956,3495) rotate(-30)" text-anchor="middle">树图 shutu.cn</text>
</g>
</svg>
